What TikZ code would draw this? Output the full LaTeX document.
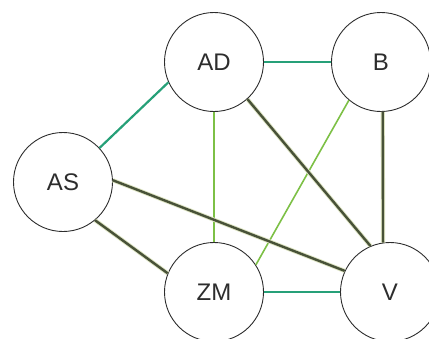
\documentclass[tikz,border=0pt]{standalone}
\usepackage{fontspec}
\setmainfont{Liberation Sans}
\definecolor{teal1}{RGB}{38,160,120}
\definecolor{lgreen}{RGB}{125,192,70}
\definecolor{dolive}{RGB}{72,82,56}
\definecolor{halo}{RGB}{222,228,195}
\definecolor{txt}{RGB}{45,45,45}
\begin{document}
\begin{tikzpicture}[x=1pt,y=-1pt,
  vert/.style={circle,draw=txt,line width=0.9pt,fill=white,minimum size=99pt,inner sep=0pt,
    font=\fontsize{24}{27}\selectfont,text=txt},
  tealedge/.style={teal1,line width=2.2pt},
  lightedge/.style={lgreen,line width=1.6pt},
  darkedge/.style={dolive,line width=2.4pt,preaction={draw=halo,line width=4.2pt}}]
\useasboundingbox (0,0) rectangle (429,338);
\node[vert] (AD) at (214,62) {AD};
\node[vert] (B) at (381,62) {B};
\node[vert] (AS) at (63,182) {AS};
\node[vert] (ZM) at (214,292) {ZM};
\node[vert] (V) at (390,292) {V};
\draw[tealedge] (AD.east) -- (B.west);
\draw[tealedge] (AS.43) -- (AD.204);
\draw[tealedge] (ZM.east) -- (V.west);
\draw[lightedge] (AD.south) -- (ZM.north);
\draw[lightedge] (B.-130) -- (ZM.33);
\draw[darkedge] (AD.-48) -- (V.113);
\draw[darkedge] (B.-88) -- (V.98);
\draw[darkedge] (AS.2) -- (V.155);
\draw[darkedge] (AS.-50) -- (ZM.158);
\end{tikzpicture}
\end{document}
